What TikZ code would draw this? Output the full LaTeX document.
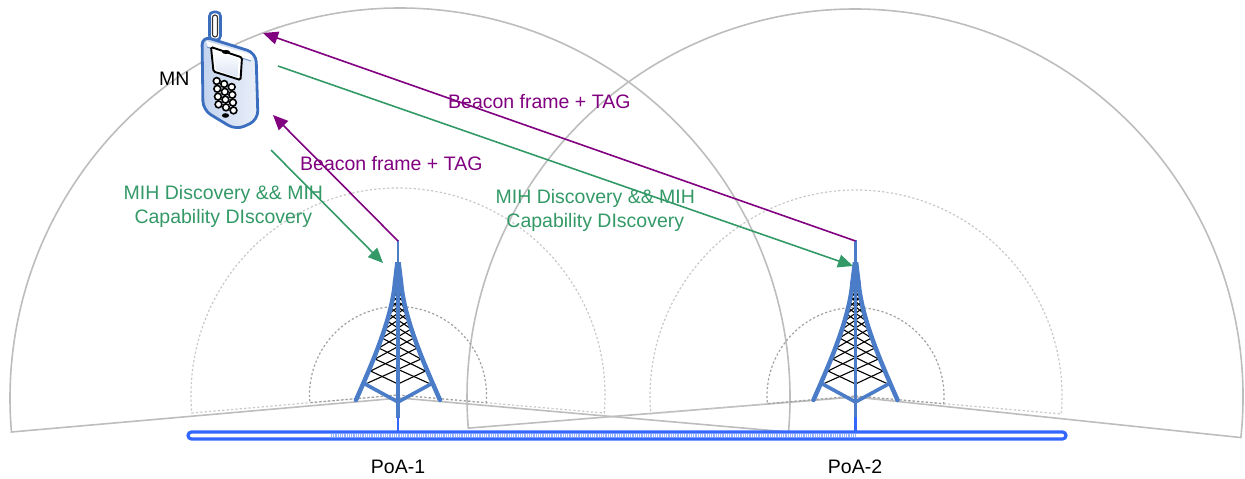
\documentclass[tikz,border=0pt]{standalone}
\usepackage{fontspec}
\setmainfont{Liberation Sans}
\usetikzlibrary{arrows.meta}

\definecolor{arcgray}{HTML}{BDBDBD}
\definecolor{dotlight}{HTML}{C8C8C8}
\definecolor{dotdark}{HTML}{A0A0A0}
\definecolor{beaconpurple}{HTML}{800080}
\definecolor{mihgreen}{HTML}{339966}
\definecolor{towerblue}{HTML}{4A7CC7}
\definecolor{busblue}{HTML}{3366FF}
\definecolor{phoneblue}{HTML}{3C6EC0}
\definecolor{phonefill}{HTML}{C3D3EE}

\tikzset{
  coverage/.style={draw=arcgray, line width=1.6pt},
  cellmid/.style={draw=dotlight, line width=1.2pt, dash pattern=on 2.2pt off 2.2pt},
  cellsmall/.style={draw=dotdark, line width=1.2pt, dash pattern=on 2.2pt off 2.2pt},
  beacon/.style={draw=beaconpurple, line width=1.6pt, -{Triangle[length=15pt,width=13pt]}},
  discover/.style={draw=mihgreen, line width=1.6pt, -{Triangle[length=15pt,width=13pt]}},
  lbl/.style={font=\fontsize{19.5}{24}\selectfont, inner sep=0pt},
  lattice/.style={draw=black, line width=1.1pt},
  leg/.style={draw=towerblue, line width=4.5pt, line cap=round},
  key/.style={draw=black, line width=1.6pt, fill=white}
}

\begin{document}
\begin{tikzpicture}[x=1pt, y=1pt, yscale=-1]
\useasboundingbox (0,0) rectangle (1245,479);

% coverage areas of the two points of attachment
\draw[coverage] (400,398) -- ++(5:390) arc[start angle=5, end angle=-185, radius=390] -- cycle;
\draw[coverage] (855,397) -- ++(6:388) arc[start angle=6, end angle=-184.6, radius=388] -- cycle;
\draw[cellmid] (398,395) -- ++(5:207) arc[start angle=5, end angle=-185, radius=207] -- cycle;
\draw[cellsmall] (398,395) -- ++(5:88.5) arc[start angle=5, end angle=-185, radius=88.5] -- cycle;
\draw[cellmid] (856,396) -- ++(5:206) arc[start angle=5, end angle=-185, radius=206] -- cycle;
\draw[cellsmall] (855.5,396) -- ++(5:88.5) arc[start angle=5, end angle=-185, radius=88.5] -- cycle;

% backbone bus
\draw[busblue, line width=3.2pt, fill=white, rounded corners=3.5] (188,432) rectangle (1066,439);
\draw[busblue!50, line width=2.2pt, dash pattern=on 1pt off 0.8pt] (331,435.5) -- (855,435.5);

% lattice towers
\foreach \tx in {398,855.5}{
  \begin{scope}[shift={(\tx,0)}]
    % cross bracing, each bar spanning two levels
    \foreach \ya/\wa/\yb/\wb in {384/32.5/359/23, 371/27.5/348/19.3, 359/23/338/16,
        348/19.3/329/13.2, 338/16/321/11, 329/13.2/314/9, 321/11/308/7.5,
        314/9/302/6, 308/7.5/297/5, 302/6/293/4.2, 297/5/289/3.5, 293/4.2/286/3}{
      \draw[lattice] (-\wa,\ya) -- (\wb,\yb);
      \draw[lattice] (\wa,\ya) -- (-\wb,\yb);
    }
    \draw[lattice] (-27.5,371) -- (0,384) -- (27.5,371);
    \draw[lattice] (0,286) ellipse[x radius=3, y radius=3.5];
    \draw[leg] (-3,282) .. controls (-6,320) and (-28,368) .. (-42,400);
    \draw[leg] (3,282) .. controls (6,320) and (28,368) .. (42,400);
    \draw[towerblue, line width=3.6pt, line join=round] (-33,384) -- (0,402) -- (33,384);
    \draw[towerblue, line width=3.4pt] (0,280) -- (0,418);
    \draw[busblue, line width=2.2pt] (0,417) -- (0,432);
    \fill[towerblue] (-2.8,262) -- (2.8,262) -- (5.2,282) -- (-5.2,282) -- cycle;
    \draw[towerblue, line width=2.4pt] (0,240) -- (0,263);
  \end{scope}
}

% mobile node
\begin{scope}
  \draw[phoneblue, line width=2.6pt, fill=white, rounded corners=4] (209.5,12) rectangle (220.5,40);
  \draw[black!80, line width=1.1pt, rounded corners=2.5] (212.5,15) rectangle (217.5,37);
  \draw[phoneblue, line width=2.8pt, left color=phonefill, right color=phonefill!35, rounded corners=9]
    (202,36) -- (256,53) -- (258,120) -- (236,130) -- (203,110) -- cycle;
  \fill[white] (206,41) -- (252,55) -- (251,61) -- (208,47) -- cycle;
  \draw[phoneblue!70, line width=1.1pt] (207,47) -- (251,61);
  % display
  \draw[black, line width=1.9pt, fill=white, rounded corners=1.5] (211,47) -- (242,57.5) -- (240.5,80) -- (213.5,71.5) -- cycle;
  \fill[black] (226,52) ellipse[x radius=4, y radius=2];
  \shade[top color=white, bottom color=phonefill!60] (214,51) -- (238.5,59.5) -- (237.5,77.2) -- (216,70) -- cycle;
  % keypad
  \foreach \r in {0,1,2,3}{
    \foreach \c in {0,1,2}{
      \draw[key] ({216.7+7.5*\c+0.6*\r},{81+7.8*\r+3*\c}) circle[radius=3.4];
    }
  }
  \fill (225.5,115.5) ellipse[x radius=3.6, y radius=2.3];
\end{scope}

% end points of the signalling arrows
\coordinate (ant1) at (398,241);
\coordinate (ant2) at (855.5,241);
\coordinate (mnTop) at (263,33);
\coordinate (mnLow) at (273,115);
\coordinate (mnOutA) at (278,66);
\coordinate (mnOutB) at (271,150);
\coordinate (mast1) at (383,263);
\coordinate (mast2) at (853,266);

\draw[beacon] (ant2) -- (mnTop);
\draw[beacon] (ant1) -- (mnLow);
\draw[discover] (mnOutA) -- (mast2);
\draw[discover] (mnOutB) -- (mast1);

% labels
\node[lbl, anchor=base west] (mn) at (159,85) {MN};
\node[lbl, text=beaconpurple, anchor=base west] (bf2) at (448,108) {Beacon frame + TAG};
\node[lbl, text=beaconpurple, anchor=base west] (bf1) at (300,170.7) {Beacon frame + TAG};
\node[lbl, text=mihgreen, align=center] (mih1) at (223.4,206) {MIH Discovery \&\& MIH\\Capability DIscovery};
\node[lbl, text=mihgreen, align=center] (mih2) at (595.3,210) {MIH Discovery \&\& MIH\\Capability DIscovery};
\node[lbl, anchor=base] (poa1) at (398,473) {PoA-1};
\node[lbl, anchor=base] (poa2) at (855,473) {PoA-2};
\end{tikzpicture}
\end{document}
